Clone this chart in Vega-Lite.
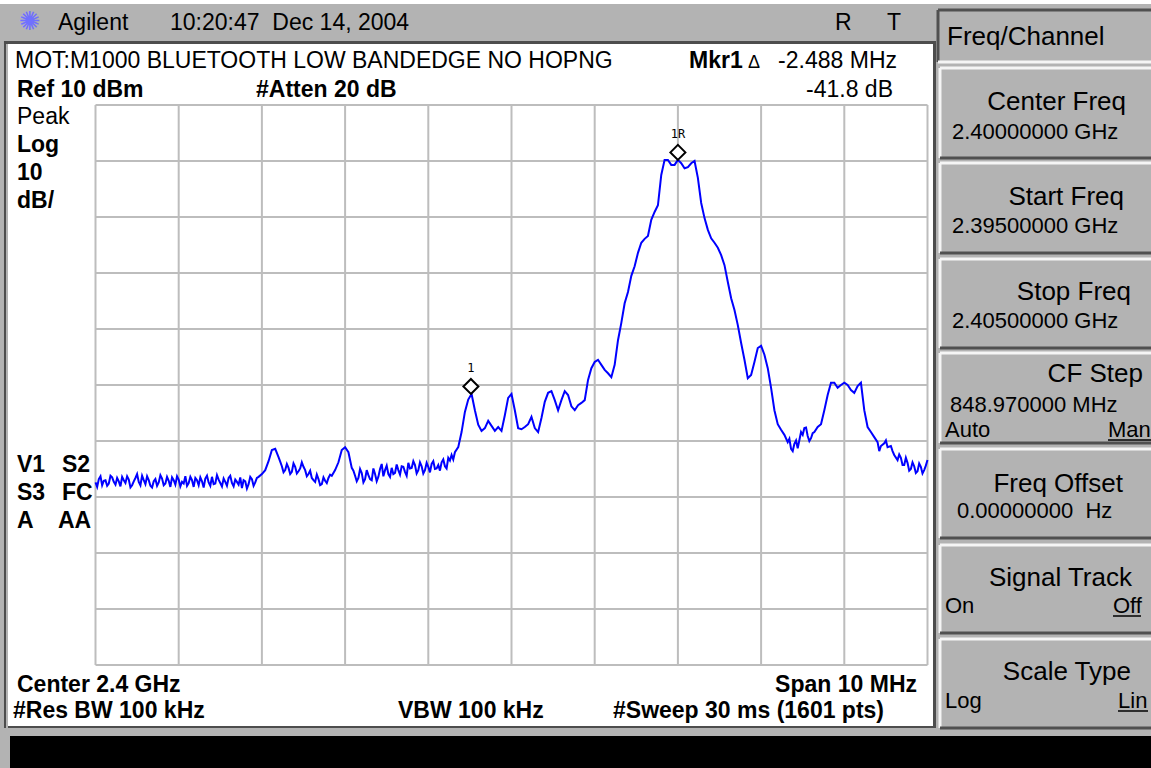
{
"$schema": "https://vega.github.io/schema/vega-lite/v6.json",
"width": 1151, "height": 768, "autosize": {"type": "none"}, "padding": 0,
"background": "#b3b3b3",
"config": {"view": {"stroke": null}},
"datasets": {
"white": [
{"f": 2393.8522, "f2": 2407.7945, "db": 28.75, "db2": 28.036},
{"f": 2393.9483, "f2": 2405.0661, "db": 20.893, "db2": -100.893}
],
"dark": [
{"f": 2393.9002, "f2": 2405.1022, "db": 21.429, "db2": 20.893},
{"f": 2405.0661, "f2": 2405.1022, "db": 21.429, "db2": -101.25},
{"f": 2393.9483, "f2": 2405.1022, "db": -100.893, "db2": -101.25},
{"f": 2393.9002, "f2": 2393.9243, "db": 21.429, "db2": -101.25}
],
"black": [{"f": 2393.9724, "f2": 2407.7945, "db": -102.679, "db2": -110}],
"vgrid": [{"f":2395},{"f":2396},{"f":2397},{"f":2398},{"f":2399},{"f":2400},{"f":2401},{"f":2402},{"f":2403},{"f":2404},{"f":2405}],
"hgrid": [{"db":10},{"db":0},{"db":-10},{"db":-20},{"db":-30},{"db":-40},{"db":-50},{"db":-60},{"db":-70},{"db":-80},{"db":-90}],
"trace": [
{"f":2395.00,"db":-57.4},{"f":2395.04,"db":-56.8},{"f":2395.08,"db":-57.9},{"f":2395.12,"db":-57.0},{"f":2395.16,"db":-57.6},
{"f":2395.20,"db":-56.5},{"f":2395.24,"db":-57.8},{"f":2395.28,"db":-57.2},{"f":2395.32,"db":-56.4},{"f":2395.36,"db":-57.5},
{"f":2395.40,"db":-56.9},{"f":2395.44,"db":-57.9},{"f":2395.48,"db":-56.6},{"f":2395.52,"db":-57.3},{"f":2395.56,"db":-56.2},
{"f":2395.60,"db":-57.7},{"f":2395.64,"db":-57.0},{"f":2395.68,"db":-58.3},{"f":2395.72,"db":-56.8},{"f":2395.76,"db":-57.4},
{"f":2395.80,"db":-56.7},{"f":2395.84,"db":-57.6},{"f":2395.88,"db":-57.1},{"f":2395.92,"db":-56.5},{"f":2395.96,"db":-57.8},
{"f":2396.00,"db":-56.9},{"f":2396.04,"db":-57.3},{"f":2396.08,"db":-56.3},{"f":2396.12,"db":-57.5},{"f":2396.16,"db":-57.0},
{"f":2396.20,"db":-56.6},{"f":2396.24,"db":-57.9},{"f":2396.28,"db":-57.2},{"f":2396.32,"db":-56.7},{"f":2396.36,"db":-57.4},
{"f":2396.40,"db":-56.4},{"f":2396.44,"db":-57.6},{"f":2396.48,"db":-56.9},{"f":2396.52,"db":-58.1},{"f":2396.56,"db":-57.3},
{"f":2396.60,"db":-56.6},{"f":2396.64,"db":-57.5},{"f":2396.68,"db":-56.9},{"f":2396.72,"db":-57.8},{"f":2396.76,"db":-58.4},
{"f":2396.80,"db":-57.2},{"f":2396.84,"db":-57.7},{"f":2396.88,"db":-56.8},{"f":2396.92,"db":-57.4},{"f":2396.96,"db":-56.4},
{"f":2397.00,"db":-55.9},{"f":2397.04,"db":-55.2},{"f":2397.08,"db":-53.6},{"f":2397.12,"db":-51.6},{"f":2397.16,"db":-51.4},
{"f":2397.20,"db":-52.9},{"f":2397.24,"db":-54.5},{"f":2397.28,"db":-55.2},{"f":2397.32,"db":-54.8},{"f":2397.36,"db":-55.5},
{"f":2397.40,"db":-54.6},{"f":2397.44,"db":-55.4},{"f":2397.48,"db":-53.8},{"f":2397.52,"db":-55.2},{"f":2397.56,"db":-55.9},
{"f":2397.60,"db":-56.6},{"f":2397.64,"db":-57.3},{"f":2397.68,"db":-56.8},{"f":2397.72,"db":-57.7},{"f":2397.76,"db":-57.1},
{"f":2397.80,"db":-56.6},{"f":2397.84,"db":-56.2},{"f":2397.88,"db":-55.2},{"f":2397.92,"db":-53.8},{"f":2397.96,"db":-51.6},
{"f":2398.00,"db":-51.1},{"f":2398.04,"db":-52.0},{"f":2398.08,"db":-54.8},{"f":2398.12,"db":-56.2},{"f":2398.16,"db":-56.6},
{"f":2398.20,"db":-55.7},{"f":2398.24,"db":-56.8},{"f":2398.28,"db":-56.1},{"f":2398.32,"db":-57.0},{"f":2398.36,"db":-55.9},
{"f":2398.40,"db":-56.4},{"f":2398.44,"db":-54.1},{"f":2398.48,"db":-55.2},{"f":2398.52,"db":-55.9},{"f":2398.56,"db":-54.8},
{"f":2398.60,"db":-55.7},{"f":2398.64,"db":-55.2},{"f":2398.68,"db":-54.5},{"f":2398.72,"db":-55.5},{"f":2398.76,"db":-53.9},
{"f":2398.80,"db":-54.8},{"f":2398.84,"db":-54.3},{"f":2398.88,"db":-55.2},{"f":2398.92,"db":-54.5},{"f":2398.96,"db":-55.2},
{"f":2399.00,"db":-54.6},{"f":2399.04,"db":-54.1},{"f":2399.08,"db":-55.0},{"f":2399.12,"db":-54.3},{"f":2399.16,"db":-53.8},
{"f":2399.20,"db":-54.5},{"f":2399.24,"db":-53.0},{"f":2399.28,"db":-52.5},{"f":2399.32,"db":-52.0},{"f":2399.36,"db":-51.1},
{"f":2399.40,"db":-48.4},{"f":2399.44,"db":-44.8},{"f":2399.48,"db":-42.6},{"f":2399.52,"db":-41.6},{"f":2399.56,"db":-44.5},
{"f":2399.60,"db":-47.1},{"f":2399.64,"db":-48.2},{"f":2399.68,"db":-47.7},{"f":2399.72,"db":-46.4},{"f":2399.76,"db":-47.3},
{"f":2399.80,"db":-48.2},{"f":2399.84,"db":-47.5},{"f":2399.88,"db":-48.2},{"f":2399.92,"db":-45.4},{"f":2399.96,"db":-42.3},
{"f":2400.00,"db":-41.6},{"f":2400.04,"db":-44.5},{"f":2400.08,"db":-47.7},{"f":2400.12,"db":-47.9},{"f":2400.16,"db":-47.5},
{"f":2400.20,"db":-47.0},{"f":2400.24,"db":-45.7},{"f":2400.28,"db":-47.7},{"f":2400.32,"db":-48.4},{"f":2400.36,"db":-45.9},
{"f":2400.40,"db":-43.0},{"f":2400.44,"db":-41.4},{"f":2400.48,"db":-41.1},{"f":2400.52,"db":-42.7},{"f":2400.56,"db":-44.5},
{"f":2400.60,"db":-42.7},{"f":2400.64,"db":-41.1},{"f":2400.68,"db":-41.8},{"f":2400.72,"db":-43.8},{"f":2400.76,"db":-44.5},
{"f":2400.80,"db":-43.6},{"f":2400.84,"db":-43.2},{"f":2400.88,"db":-42.7},{"f":2400.92,"db":-39.1},{"f":2400.96,"db":-37.0},
{"f":2401.00,"db":-35.9},{"f":2401.04,"db":-35.5},{"f":2401.08,"db":-36.4},{"f":2401.12,"db":-37.3},{"f":2401.16,"db":-37.9},
{"f":2401.20,"db":-38.6},{"f":2401.24,"db":-36.4},{"f":2401.28,"db":-32.0},{"f":2401.32,"db":-28.9},{"f":2401.36,"db":-25.4},
{"f":2401.40,"db":-23.4},{"f":2401.44,"db":-20.5},{"f":2401.48,"db":-18.8},{"f":2401.52,"db":-16.4},{"f":2401.56,"db":-14.6},
{"f":2401.60,"db":-13.9},{"f":2401.64,"db":-13.4},{"f":2401.68,"db":-10.5},{"f":2401.72,"db":-9.1},{"f":2401.76,"db":-7.9},
{"f":2401.80,"db":-2.5},{"f":2401.84,"db":0.2},{"f":2401.88,"db":0.2},{"f":2401.92,"db":-0.7},{"f":2401.96,"db":-0.7},
{"f":2402.00,"db":0.2},{"f":2402.04,"db":-0.4},{"f":2402.08,"db":-1.3},{"f":2402.12,"db":-1.1},{"f":2402.16,"db":-0.4},
{"f":2402.20,"db":0.0},{"f":2402.24,"db":-3.0},{"f":2402.28,"db":-7.5},{"f":2402.32,"db":-10.2},{"f":2402.36,"db":-12.3},
{"f":2402.40,"db":-13.8},{"f":2402.44,"db":-14.6},{"f":2402.48,"db":-15.5},{"f":2402.52,"db":-16.8},{"f":2402.56,"db":-18.6},
{"f":2402.60,"db":-21.6},{"f":2402.64,"db":-24.5},{"f":2402.68,"db":-26.6},{"f":2402.72,"db":-29.3},{"f":2402.76,"db":-32.5},
{"f":2402.80,"db":-35.5},{"f":2402.84,"db":-38.8},{"f":2402.88,"db":-38.2},{"f":2402.92,"db":-35.9},{"f":2402.96,"db":-33.4},
{"f":2403.00,"db":-33.0},{"f":2403.04,"db":-34.6},{"f":2403.08,"db":-37.0},{"f":2403.12,"db":-40.5},{"f":2403.16,"db":-44.5},
{"f":2403.20,"db":-47.0},{"f":2403.24,"db":-48.0},{"f":2403.28,"db":-48.9},{"f":2403.32,"db":-50.2},{"f":2403.36,"db":-51.4},
{"f":2403.40,"db":-50.5},{"f":2403.44,"db":-51.3},{"f":2403.48,"db":-48.4},{"f":2403.52,"db":-47.7},{"f":2403.56,"db":-49.1},
{"f":2403.60,"db":-49.5},{"f":2403.64,"db":-48.4},{"f":2403.68,"db":-47.5},{"f":2403.72,"db":-47.0},{"f":2403.76,"db":-44.5},
{"f":2403.80,"db":-41.8},{"f":2403.84,"db":-39.6},{"f":2403.88,"db":-39.6},{"f":2403.92,"db":-40.5},{"f":2403.96,"db":-40.0},
{"f":2404.00,"db":-39.6},{"f":2404.04,"db":-40.0},{"f":2404.08,"db":-40.9},{"f":2404.12,"db":-41.4},{"f":2404.16,"db":-40.2},
{"f":2404.20,"db":-39.6},{"f":2404.24,"db":-44.5},{"f":2404.28,"db":-47.5},{"f":2404.32,"db":-48.4},{"f":2404.36,"db":-49.3},
{"f":2404.40,"db":-50.2},{"f":2404.44,"db":-50.9},{"f":2404.48,"db":-50.4},{"f":2404.52,"db":-51.1},{"f":2404.56,"db":-50.9},
{"f":2404.60,"db":-52.5},{"f":2404.64,"db":-53.4},{"f":2404.68,"db":-53.0},{"f":2404.72,"db":-54.3},{"f":2404.76,"db":-53.9},
{"f":2404.80,"db":-55.0},{"f":2404.84,"db":-54.5},{"f":2404.88,"db":-55.4},{"f":2404.92,"db":-54.6},{"f":2404.96,"db":-55.2},
{"f":2405.00,"db":-53.4},
{"f":2395.02,"db":-58.2},{"f":2395.06,"db":-56.3},{"f":2395.10,"db":-57.1},{"f":2395.14,"db":-58.0},{"f":2395.18,"db":-56.2},
{"f":2395.22,"db":-57.3},{"f":2395.26,"db":-56.6},{"f":2395.30,"db":-58.1},{"f":2395.34,"db":-57.0},{"f":2395.38,"db":-56.3},
{"f":2395.42,"db":-58.3},{"f":2395.46,"db":-57.2},{"f":2395.50,"db":-55.9},{"f":2395.54,"db":-57.9},{"f":2395.58,"db":-57.0},
{"f":2395.62,"db":-56.3},{"f":2395.66,"db":-58.0},{"f":2395.70,"db":-57.2},{"f":2395.74,"db":-58.0},{"f":2395.78,"db":-56.1},
{"f":2395.82,"db":-57.9},{"f":2395.86,"db":-56.4},{"f":2395.90,"db":-58.2},{"f":2395.94,"db":-57.0},{"f":2395.98,"db":-56.3},
{"f":2396.02,"db":-58.1},{"f":2396.06,"db":-57.6},{"f":2396.10,"db":-58.0},{"f":2396.14,"db":-56.4},{"f":2396.18,"db":-58.2},
{"f":2396.22,"db":-57.0},{"f":2396.26,"db":-56.5},{"f":2396.30,"db":-58.3},{"f":2396.34,"db":-56.2},{"f":2396.38,"db":-58.0},
{"f":2396.42,"db":-57.7},{"f":2396.46,"db":-56.1},{"f":2396.50,"db":-57.5},{"f":2396.54,"db":-56.7},{"f":2396.58,"db":-58.0},
{"f":2396.62,"db":-56.2},{"f":2396.66,"db":-58.1},{"f":2396.70,"db":-57.3},{"f":2396.74,"db":-56.5},{"f":2396.78,"db":-57.0},
{"f":2396.82,"db":-58.5},{"f":2396.86,"db":-56.4},{"f":2396.90,"db":-58.0},{"f":2396.94,"db":-56.6},
{"f":2397.22,"db":-53.7},{"f":2397.26,"db":-55.6},{"f":2397.30,"db":-54.1},{"f":2397.34,"db":-55.9},{"f":2397.38,"db":-54.0},
{"f":2397.42,"db":-55.8},{"f":2397.46,"db":-54.9},{"f":2397.50,"db":-54.6},{"f":2397.54,"db":-56.3},{"f":2397.58,"db":-55.3},
{"f":2397.62,"db":-57.0},{"f":2397.66,"db":-56.0},{"f":2397.70,"db":-57.9},{"f":2397.74,"db":-56.5},{"f":2397.78,"db":-57.5},
{"f":2397.82,"db":-56.0},
{"f":2398.10,"db":-55.3},{"f":2398.14,"db":-57.2},{"f":2398.18,"db":-55.0},{"f":2398.22,"db":-57.4},{"f":2398.26,"db":-55.2},
{"f":2398.30,"db":-56.8},{"f":2398.34,"db":-54.9},{"f":2398.38,"db":-57.2},{"f":2398.42,"db":-55.0},{"f":2398.46,"db":-56.3},
{"f":2398.50,"db":-54.4},{"f":2398.54,"db":-56.4},{"f":2398.58,"db":-55.9},{"f":2398.62,"db":-54.2},{"f":2398.66,"db":-56.0},
{"f":2398.70,"db":-54.6},{"f":2398.74,"db":-56.2},{"f":2398.78,"db":-54.9},{"f":2398.82,"db":-53.6},{"f":2398.86,"db":-55.8},
{"f":2398.90,"db":-53.8},{"f":2398.94,"db":-55.8},{"f":2398.98,"db":-53.9},{"f":2399.02,"db":-55.6},{"f":2399.06,"db":-53.6},
{"f":2399.10,"db":-54.9},{"f":2399.14,"db":-55.3},{"f":2399.18,"db":-53.3},{"f":2399.22,"db":-54.9},{"f":2399.26,"db":-53.5},
{"f":2399.30,"db":-53.3},
{"f":2403.34,"db":-49.6},{"f":2403.38,"db":-51.8},{"f":2403.42,"db":-49.9},{"f":2403.50,"db":-48.9},{"f":2403.54,"db":-47.6},
{"f":2403.58,"db":-50.0},{"f":2403.62,"db":-48.6},
{"f":2404.42,"db":-51.8},{"f":2404.50,"db":-49.9},{"f":2404.58,"db":-51.8},{"f":2404.66,"db":-52.4},{"f":2404.70,"db":-54.3},
{"f":2404.74,"db":-53.0},{"f":2404.78,"db":-55.3},{"f":2404.82,"db":-53.8},{"f":2404.86,"db":-55.7},{"f":2404.90,"db":-54.0},
{"f":2404.94,"db":-55.8},{"f":2404.98,"db":-54.4}
],
"markers": [{"label":"1R","f":2402.0,"db":0.2},{"label":"1","f":2399.512,"db":-41.6}],
"keys": [
{"key":"Center Freq","f":2405.1502,"f2":2407.7945,"db":16.607,"db2":0.536},
{"key":"Start Freq","f":2405.1502,"f2":2407.7945,"db":-0.357,"db2":-16.429},
{"key":"Stop Freq","f":2405.1502,"f2":2407.7945,"db":-17.5,"db2":-33.393},
{"key":"CF Step","f":2405.1502,"f2":2407.7945,"db":-34.286,"db2":-50.357},
{"key":"Freq Offset","f":2405.1502,"f2":2407.7945,"db":-51.429,"db2":-67.321},
{"key":"Signal Track","f":2405.1502,"f2":2407.7945,"db":-68.571,"db2":-84.286},
{"key":"Scale Type","f":2405.1502,"f2":2407.7945,"db":-85.357,"db2":-101.25}
],
"fcbox": [{"f":2405.1262,"f2":2407.7945,"db":26.964,"db2":17.679}],
"t_reg": [
{"t":"Agilent","f":2394.5493,"db":23.393},
{"t":"10:20:47\u00a0 Dec 14, 2004","f":2395.8954,"db":23.393},
{"t":"R","f":2403.8882,"db":23.393},
{"t":"T","f":2404.5132,"db":23.393},
{"t":"MOT:M1000 BLUETOOTH LOW BANDEDGE NO HOPNG","f":2394.0325,"db":16.607},
{"t":"Peak","f":2394.0565,"db":6.607}
],
"t_reg_r": [
{"t":"-2.488 MHz","f":2404.6334,"db":16.607},
{"t":"-41.8 dB","f":2404.5853,"db":11.429}
],
"t_small": [{"t":"Δ","f":2402.8425,"db":16.607}],
"t_bold": [
{"t":"Mkr1","f":2402.1334,"db":16.607},
{"t":"Ref 10 dBm","f":2394.0565,"db":11.429},
{"t":"#Atten 20 dB","f":2396.9291,"db":11.429},
{"t":"Log","f":2394.0565,"db":1.607},
{"t":"10","f":2394.0565,"db":-3.393},
{"t":"dB/","f":2394.0565,"db":-8.393},
{"t":"V1","f":2394.0565,"db":-55.536},
{"t":"S2","f":2394.5974,"db":-55.536},
{"t":"S3","f":2394.0565,"db":-60.536},
{"t":"FC","f":2394.5974,"db":-60.536},
{"t":"A","f":2394.0565,"db":-65.536},
{"t":"AA","f":2394.5493,"db":-65.536},
{"t":"Center 2.4 GHz","f":2394.0565,"db":-94.821},
{"t":"#Res BW 100 kHz","f":2394.0084,"db":-99.464},
{"t":"VBW 100 kHz","f":2398.6358,"db":-99.464},
{"t":"#Sweep 30 ms (1601 pts)","f":2401.22,"db":-99.464}
],
"t_bold_r": [{"t":"Span 10 MHz","f":2404.8738,"db":-94.821}],
"sk_head": [{"t":"Freq/Channel","f":2405.2344,"db":20.714}],
"sk_title": [
{"t":"Center Freq","f":2407.3858,"db":9.107},
{"t":"Start Freq","f":2407.3618,"db":-7.857},
{"t":"Stop Freq","f":2407.4459,"db":-24.821},
{"t":"CF Step","f":2407.5901,"db":-39.464},
{"t":"Freq Offset","f":2407.3498,"db":-59.107},
{"t":"Signal Track","f":2407.4579,"db":-75.893},
{"t":"Scale Type","f":2407.4459,"db":-92.679}
],
"sk_val": [
{"t":"2.40000000 GHz","f":2405.2945,"db":3.929},
{"t":"2.39500000 GHz","f":2405.2945,"db":-12.857},
{"t":"2.40500000 GHz","f":2405.2945,"db":-29.821},
{"t":"848.970000 MHz","f":2405.2704,"db":-44.821},
{"t":"0.00000000\u00a0 Hz","f":2405.3546,"db":-63.75},
{"t":"Auto","f":2405.2103,"db":-49.286},
{"t":"Man","f":2407.1695,"db":-49.286},
{"t":"On","f":2405.2103,"db":-80.714},
{"t":"Off","f":2407.2296,"db":-80.714},
{"t":"Log","f":2405.2103,"db":-97.679},
{"t":"Lin","f":2407.2897,"db":-97.679}
],
"underl": [
{"f":2407.1695,"f2":2407.7945,"db":-49.821},
{"f":2407.2296,"f2":2407.5661,"db":-81.25},
{"f":2407.2897,"f2":2407.6502,"db":-98.214}
],
"logo": [{"t":"✺","f":2394.2127,"db":24.821}]
},
"layer": [
{"data": {"name": "white"}, "mark": {"type": "rect", "color": "#ffffff"}, "encoding": {
 "x": {"field": "f", "type": "quantitative", "scale": {"domain": [2393.8522, 2407.6863], "nice": false, "zero": false}, "axis": null},
 "y": {"field": "db", "type": "quantitative", "scale": {"domain": [-108.393, 28.75], "nice": false, "zero": false}, "axis": null},
 "x2": {"field": "f2"}, "y2": {"field": "db2"}}},
{"data": {"name": "dark"}, "mark": {"type": "rect", "color": "#4d4d4d"}, "encoding": {
 "x": {"field": "f", "type": "quantitative", "axis": null}, "y": {"field": "db", "type": "quantitative", "axis": null},
 "x2": {"field": "f2"}, "y2": {"field": "db2"}}},
{"data": {"name": "black"}, "mark": {"type": "rect", "color": "#000000"}, "encoding": {
 "x": {"field": "f", "type": "quantitative", "axis": null}, "y": {"field": "db", "type": "quantitative", "axis": null},
 "x2": {"field": "f2"}, "y2": {"field": "db2"}}},
{"data": {"name": "vgrid"}, "mark": {"type": "rule", "color": "#bdbdbd", "strokeWidth": 2}, "encoding": {
 "x": {"field": "f", "type": "quantitative", "axis": null},
 "y": {"datum": -90, "type": "quantitative", "axis": null}, "y2": {"datum": 10}}},
{"data": {"name": "hgrid"}, "mark": {"type": "rule", "color": "#bdbdbd", "strokeWidth": 2}, "encoding": {
 "y": {"field": "db", "type": "quantitative", "axis": null},
 "x": {"datum": 2395, "type": "quantitative", "axis": null}, "x2": {"datum": 2405}}},
{"data": {"name": "trace"}, "mark": {"type": "line", "color": "#0000ff", "strokeWidth": 2}, "encoding": {
 "x": {"field": "f", "type": "quantitative", "axis": null}, "y": {"field": "db", "type": "quantitative", "axis": null}}},
{"data": {"name": "markers"}, "mark": {"type": "point", "shape": "M0,0L1,-1L0,-2L-1,-1Z", "size": 225, "filled": true, "fill": "#ffffff", "stroke": "#000000", "strokeWidth": 2, "opacity": 1}, "encoding": {
 "x": {"field": "f", "type": "quantitative", "axis": null}, "y": {"field": "db", "type": "quantitative", "axis": null}}},
{"data": {"name": "markers"}, "mark": {"type": "text", "font": "DejaVu Sans Mono", "fontSize": 12, "dy": -22, "align": "center", "baseline": "alphabetic", "fill": "#000000"}, "encoding": {
 "x": {"field": "f", "type": "quantitative", "axis": null}, "y": {"field": "db", "type": "quantitative", "axis": null}, "text": {"field": "label"}}},
{"data": {"name": "keys"}, "mark": {"type": "rule", "color": "#f5f5f5", "strokeWidth": 3}, "encoding": {
 "x": {"field": "f", "type": "quantitative", "axis": null}, "y": {"field": "db", "type": "quantitative", "axis": null}, "x2": {"field": "f2"}}},
{"data": {"name": "keys"}, "mark": {"type": "rule", "color": "#f5f5f5", "strokeWidth": 3}, "encoding": {
 "x": {"field": "f", "type": "quantitative", "axis": null}, "y": {"field": "db", "type": "quantitative", "axis": null}, "y2": {"field": "db2"}}},
{"data": {"name": "keys"}, "mark": {"type": "rule", "color": "#505050", "strokeWidth": 3}, "encoding": {
 "x": {"field": "f", "type": "quantitative", "axis": null}, "y": {"field": "db2", "type": "quantitative", "axis": null}, "x2": {"field": "f2"}}},
{"data": {"name": "fcbox"}, "mark": {"type": "rule", "color": "#505050", "strokeWidth": 3}, "encoding": {
 "x": {"field": "f", "type": "quantitative", "axis": null}, "y": {"field": "db", "type": "quantitative", "axis": null}, "x2": {"field": "f2"}}},
{"data": {"name": "fcbox"}, "mark": {"type": "rule", "color": "#505050", "strokeWidth": 3}, "encoding": {
 "x": {"field": "f", "type": "quantitative", "axis": null}, "y": {"field": "db", "type": "quantitative", "axis": null}, "y2": {"field": "db2"}}},
{"data": {"name": "fcbox"}, "mark": {"type": "rule", "color": "#f5f5f5", "strokeWidth": 3}, "encoding": {
 "x": {"field": "f", "type": "quantitative", "axis": null}, "y": {"field": "db2", "type": "quantitative", "axis": null}, "x2": {"field": "f2"}}},
{"data": {"name": "t_reg"}, "mark": {"type": "text", "font": "Liberation Sans", "fontSize": 23, "align": "left", "baseline": "alphabetic", "fill": "#000000"}, "encoding": {
 "x": {"field": "f", "type": "quantitative", "axis": null}, "y": {"field": "db", "type": "quantitative", "axis": null}, "text": {"field": "t"}}},
{"data": {"name": "t_reg_r"}, "mark": {"type": "text", "font": "Liberation Sans", "fontSize": 23, "align": "right", "baseline": "alphabetic", "fill": "#000000"}, "encoding": {
 "x": {"field": "f", "type": "quantitative", "axis": null}, "y": {"field": "db", "type": "quantitative", "axis": null}, "text": {"field": "t"}}},
{"data": {"name": "t_small"}, "mark": {"type": "text", "font": "Liberation Sans", "fontSize": 18, "align": "left", "baseline": "alphabetic", "fill": "#000000"}, "encoding": {
 "x": {"field": "f", "type": "quantitative", "axis": null}, "y": {"field": "db", "type": "quantitative", "axis": null}, "text": {"field": "t"}}},
{"data": {"name": "t_bold"}, "mark": {"type": "text", "font": "Liberation Sans", "fontWeight": "bold", "fontSize": 23, "align": "left", "baseline": "alphabetic", "fill": "#000000"}, "encoding": {
 "x": {"field": "f", "type": "quantitative", "axis": null}, "y": {"field": "db", "type": "quantitative", "axis": null}, "text": {"field": "t"}}},
{"data": {"name": "t_bold_r"}, "mark": {"type": "text", "font": "Liberation Sans", "fontWeight": "bold", "fontSize": 23, "align": "right", "baseline": "alphabetic", "fill": "#000000"}, "encoding": {
 "x": {"field": "f", "type": "quantitative", "axis": null}, "y": {"field": "db", "type": "quantitative", "axis": null}, "text": {"field": "t"}}},
{"data": {"name": "sk_head"}, "mark": {"type": "text", "font": "Liberation Sans", "fontSize": 26, "align": "left", "baseline": "alphabetic", "fill": "#000000"}, "encoding": {
 "x": {"field": "f", "type": "quantitative", "axis": null}, "y": {"field": "db", "type": "quantitative", "axis": null}, "text": {"field": "t"}}},
{"data": {"name": "sk_title"}, "mark": {"type": "text", "font": "Liberation Sans", "fontSize": 26, "align": "right", "baseline": "alphabetic", "fill": "#000000"}, "encoding": {
 "x": {"field": "f", "type": "quantitative", "axis": null}, "y": {"field": "db", "type": "quantitative", "axis": null}, "text": {"field": "t"}}},
{"data": {"name": "sk_val"}, "mark": {"type": "text", "font": "Liberation Sans", "fontSize": 22, "align": "left", "baseline": "alphabetic", "fill": "#000000"}, "encoding": {
 "x": {"field": "f", "type": "quantitative", "axis": null}, "y": {"field": "db", "type": "quantitative", "axis": null}, "text": {"field": "t"}}},
{"data": {"name": "underl"}, "mark": {"type": "rule", "color": "#000000", "strokeWidth": 1.5}, "encoding": {
 "x": {"field": "f", "type": "quantitative", "axis": null}, "y": {"field": "db", "type": "quantitative", "axis": null}, "x2": {"field": "f2"}}},
{"data": {"name": "logo"}, "mark": {"type": "text", "font": "DejaVu Sans", "fontSize": 26, "align": "center", "baseline": "middle", "fill": "#7070ff"}, "encoding": {
 "x": {"field": "f", "type": "quantitative", "axis": null}, "y": {"field": "db", "type": "quantitative", "axis": null}, "text": {"field": "t"}}}
]
}
